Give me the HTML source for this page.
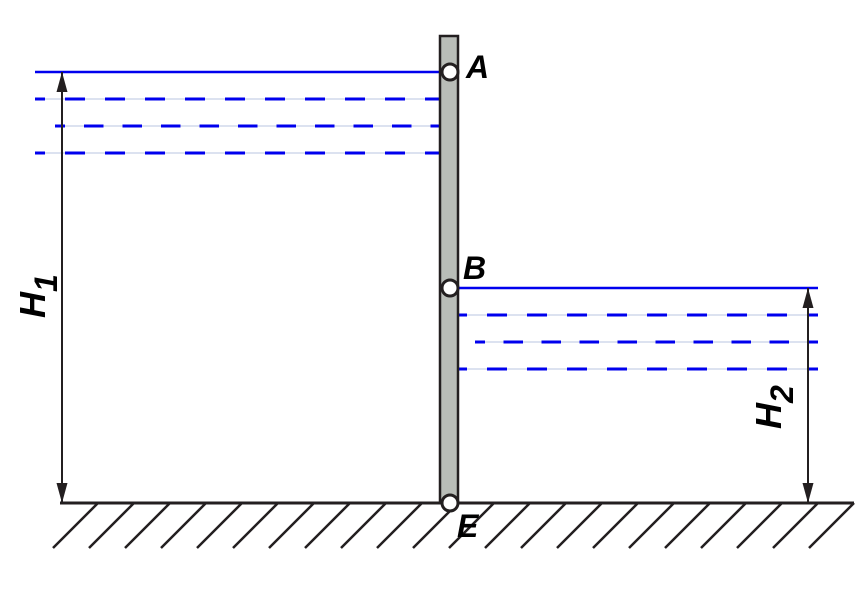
<!DOCTYPE html>
<html><head><style>html,body{margin:0;padding:0;background:#fff}svg{display:block}.t{font-family:"Liberation Sans",Arial,sans-serif;font-weight:bold;font-style:italic}</style></head>
<body>
<svg width="867" height="595" viewBox="0 0 867 595" xmlns="http://www.w3.org/2000/svg">
<defs>
<marker id="ah" viewBox="0 0 20 12" refX="20" refY="6" markerWidth="20" markerHeight="12" markerUnits="userSpaceOnUse" orient="auto"><path d="M0,0.5 L20,6 L0,11.5 Z" fill="#231f20"/></marker>
</defs>
<g stroke="#b8c4e0" stroke-width="1">
<line x1="35" y1="99" x2="440" y2="99"/><line x1="55" y1="126" x2="440" y2="126"/><line x1="35" y1="153" x2="440" y2="153"/>
<line x1="458" y1="315" x2="818" y2="315"/><line x1="475" y1="342" x2="818" y2="342"/><line x1="458" y1="369" x2="818" y2="369"/>
</g>
<g stroke="#0000ee" stroke-width="3" fill="none">
<line x1="35" y1="72" x2="440" y2="72" stroke-width="2.5"/>
<line x1="35" y1="99" x2="440" y2="99" stroke-dasharray="20 20" stroke-dashoffset="10"/>
<line x1="55" y1="126" x2="440" y2="126" stroke-dasharray="19.5 19" stroke-dashoffset="9.5"/>
<line x1="35" y1="153" x2="440" y2="153" stroke-dasharray="20 20" stroke-dashoffset="10"/>
<line x1="458" y1="288" x2="818" y2="288" stroke-width="2.5"/>
<line x1="458" y1="315" x2="818" y2="315" stroke-dasharray="20 20" stroke-dashoffset="11"/>
<line x1="475" y1="342" x2="818" y2="342" stroke-dasharray="19.5 18.5" stroke-dashoffset="9.5"/>
<line x1="458" y1="369" x2="818" y2="369" stroke-dasharray="20 20" stroke-dashoffset="11"/>
</g>
<g stroke="#231f20" stroke-width="2">
<line x1="62" y1="290" x2="62" y2="72" marker-end="url(#ah)"/>
<line x1="62" y1="290" x2="62" y2="503" marker-end="url(#ah)"/>
<line x1="808" y1="400" x2="808" y2="288" marker-end="url(#ah)"/>
<line x1="808" y1="400" x2="808" y2="503" marker-end="url(#ah)"/>
</g>
<g stroke="#231f20" stroke-width="2.5">
<line x1="60" y1="503" x2="854" y2="503" stroke-width="3"/>
<path d="M98,503 l-45,45 M134,503 l-45,45 M170,503 l-45,45 M206,503 l-45,45 M242,503 l-45,45 M278,503 l-45,45 M314,503 l-45,45 M350,503 l-45,45 M386,503 l-45,45 M422,503 l-45,45 M458,503 l-45,45 M494,503 l-45,45 M530,503 l-45,45 M566,503 l-45,45 M602,503 l-45,45 M638,503 l-45,45 M674,503 l-45,45 M710,503 l-45,45 M746,503 l-45,45 M782,503 l-45,45 M818,503 l-45,45 M854,503 l-45,45"/>
</g>
<rect x="440" y="36" width="18" height="467" fill="#b9bdb8" stroke="#231f20" stroke-width="2.5"/>
<g fill="#fff" stroke="#231f20" stroke-width="3">
<circle cx="450" cy="72" r="8"/><circle cx="450" cy="288" r="8"/><circle cx="450" cy="503" r="8"/>
</g>
<g class="t" fill="#000">
<text x="466" y="78" font-size="32">A</text>
<text x="463" y="279" font-size="32">B</text>
<text x="457" y="537" font-size="32">E</text>
<text transform="translate(45,318) rotate(-90)" font-size="36">H<tspan font-size="32" dy="12">1</tspan></text>
<text transform="translate(781,429) rotate(-90)" font-size="36">H<tspan font-size="32" dy="12">2</tspan></text>
</g>
</svg>
</body></html>
